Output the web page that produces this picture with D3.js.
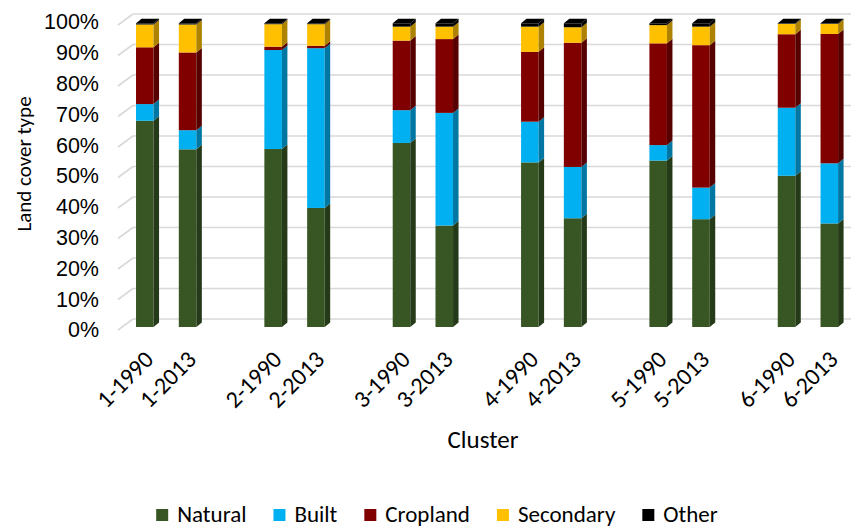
<!DOCTYPE html>
<html>
<head>
<meta charset="utf-8">
<script src="https://cdn.jsdelivr.net/npm/d3@7"></script>
<style>
    body { margin: 0; background: #fff; }
    svg { font-family: Carlito, Calibri, Lato, sans-serif; fill: #000; }
    .label-axis { font-size: 21.5px; }
</style>
</head>
<body>
<svg id="chart"></svg>
<script>
const categories = ["1-1990", "1-2013", "2-1990", "2-2013", "3-1990", "3-2013",
    "4-1990", "4-2013", "5-1990", "5-2013", "6-1990", "6-2013"];
const natural   = [67.9, 58.5, 58.6, 39.2, 60.6, 33.4, 54.2, 35.8, 54.8, 35.5, 49.8, 34.1];
const built     = [5.5, 6.3, 32.6, 52.6, 10.8, 37.1, 13.4, 16.9, 5.1, 10.4, 22.4, 19.8];
const cropland  = [18.7, 25.6, 1.1, 0.8, 22.9, 24.3, 23.0, 40.9, 33.5, 46.9, 24.2, 42.6];
const secondary = [7.5, 9.2, 7.4, 7.1, 4.6, 4.1, 8.3, 5.1, 6.0, 6.1, 3.4, 3.3];
const other     = [0.4, 0.4, 0.3, 0.3, 1.1, 1.1, 1.1, 1.3, 0.6, 1.1, 0.2, 0.2];
const seriesNames = ["Natural", "Built", "Cropland", "Secondary", "Other"];
const yTicks = [0, 10, 20, 30, 40, 50, 60, 70, 80, 90, 100];

const colors = {
    Natural: "#375623", Built: "#00b0f0", Cropland: "#800000", Secondary: "#ffc000", Other: "#000000"
};

const width = 851;
const height = 526;
// oblique 3d offsets
const wallDx = 15, wallDy = -11;
const barDx = 5.5, barDy = -4.5;

const svg = d3.select("#chart")
    .attr("width", width)
    .attr("height", height)
    .attr("viewBox", [0, 0, width, height]);

// slots: two bars per cluster, then an empty slot
const slots = [];
categories.forEach((c, i) => {
    slots.push(c);
    if (i % 2 === 1 && i < categories.length - 1) slots.push("gap" + i);
});

const xScale = d3.scaleBand(slots, [123.4, 850.7]).paddingInner(0.59).paddingOuter(0.295);
const yBack = d3.scaleLinear([0, 100], [319, 14]);
const yBar = d3.scaleLinear([0, 100], [327, 23.3]);
const yLab = d3.scaleLinear([0, 100], [330, 22]);

// back wall gridlines
svg.append("g")
    .selectAll("line")
    .data(yTicks)
    .join("line")
    .attr("x1", 118 + wallDx)
    .attr("x2", width)
    .attr("y1", d => yBack(d))
    .attr("y2", d => yBack(d))
    .attr("stroke", "#d9d9d9")
    .attr("stroke-width", 1.6);

// side wall diagonals
svg.append("g")
    .selectAll("line")
    .data(yTicks)
    .join("line")
    .attr("x1", 118)
    .attr("x2", 118 + wallDx)
    .attr("y1", d => yBack(d) - wallDy)
    .attr("y2", d => yBack(d))
    .attr("stroke", "#d9d9d9")
    .attr("stroke-width", 1.6);

// y tick labels
const yAxis = d3.axisLeft(yLab).tickValues(yTicks).tickSize(0).tickPadding(0).tickFormat(d => d + "%");
svg.append("g")
    .attr("transform", "translate(99,0)")
    .call(yAxis)
    .call(g => g.select(".domain").remove())
    .selectAll("text")
    .attr("class", "label-axis")
    .attr("font-family", null)
    .attr("font-size", null)
    .attr("fill", "#000");

// stacked data
const table = categories.map((c, i) => ({
    cat: c, Natural: natural[i], Built: built[i], Cropland: cropland[i], Secondary: secondary[i], Other: other[i]
}));
const stacked = d3.stack().keys(seriesNames)(table);

function darker(c, k) {
    return d3.color(c).darker(k).formatHex();
}

const bw = xScale.bandwidth();
const barsG = svg.append("g");

table.forEach((row, i) => {
    const x = xScale(row.cat);
    const g = barsG.append("g");
    stacked.forEach(layer => {
        const [y0, y1] = layer[i];
        if (y1 - y0 <= 0) return;
        const top = yBar(y1), bot = yBar(y0);
        const col = colors[layer.key];
        g.append("rect")
            .attr("x", x)
            .attr("y", top)
            .attr("width", bw)
            .attr("height", bot - top)
            .attr("fill", col);
        g.append("path")
            .attr("d", `M${x + bw},${top}L${x + bw + barDx},${top + barDy}L${x + bw + barDx},${bot + barDy}L${x + bw},${bot}Z`)
            .attr("fill", layer.key === "Other" ? "#000" : darker(col, 1.1));
    });
    const topLayer = stacked[stacked.length - 1][i];
    const yt = yBar(topLayer[1]);
    g.append("path")
        .attr("d", `M${x},${yt}L${x + barDx},${yt + barDy}L${x + bw + barDx},${yt + barDy}L${x + bw},${yt}Z`)
        .attr("fill", "#000");
});

// x labels
svg.append("g")
    .selectAll("text")
    .data(categories)
    .join("text")
    .attr("class", "label-axis")
    .attr("text-anchor", "end")
    .attr("transform", d => `translate(${xScale(d) + bw / 2 + 10},${361}) rotate(-45)`)
    .style("font-size", "24px")
    .text(d => d);

svg.append("text")
    .attr("class", "label-axis")
    .attr("text-anchor", "middle")
    .attr("x", 483)
    .attr("y", 448)
    .style("font-size", "25px")
    .text("Cluster");

svg.append("text")
    .attr("class", "label-axis")
    .attr("text-anchor", "middle")
    .attr("transform", "translate(31,164) rotate(-90)")
    .style("font-size", "21px")
    .text("Land cover type");

// legend
const legend = svg.append("g");
let lx = 0;
seriesNames.forEach(name => {
    const item = legend.append("g").attr("transform", `translate(${lx},0)`);
    item.append("rect")
        .attr("x", 0)
        .attr("y", -6)
        .attr("width", 12)
        .attr("height", 12)
        .attr("fill", colors[name]);
    const t = item.append("text")
        .attr("class", "label-axis")
        .attr("x", 21)
        .attr("y", 6.5)
        .style("font-size", "23px")
        .text(name);
    lx += 21 + t.node().getComputedTextLength() + 27;
});
const legendWidth = lx - 27;
legend.attr("transform", `translate(${437 - legendWidth / 2},515)`);
</script>
</body>
</html>
